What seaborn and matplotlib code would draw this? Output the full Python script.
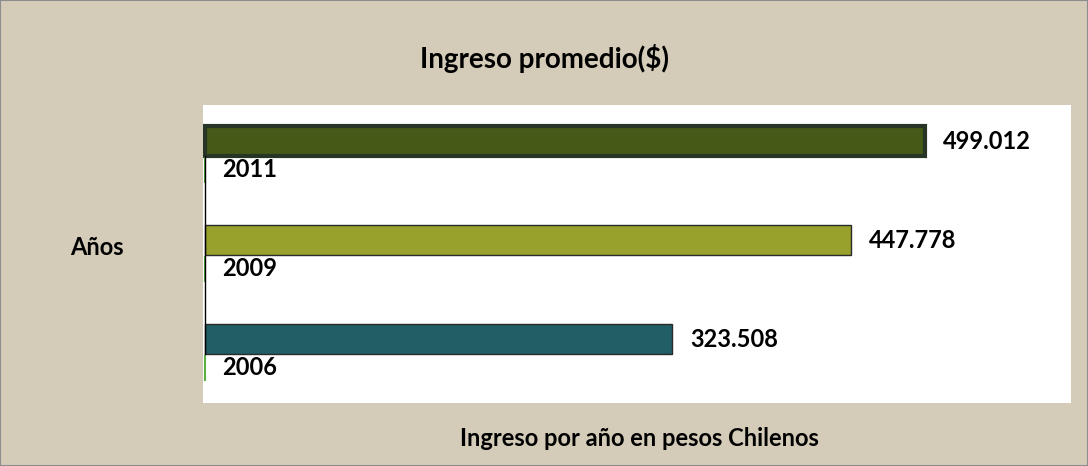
import matplotlib.pyplot as plt
import pandas as pd
import seaborn as sns
from matplotlib.patches import Rectangle

years = ["2011", "2009", "2006"]
incomes = [499012, 447778, 323508]
bar_colors = ["#465A18", "#98A12C", "#225E66"]
value_labels = ["499.012", "447.778", "323.508"]


def main():
    df = pd.DataFrame({"Año": years, "Ingreso": incomes})

    sns.set_theme(style="white")
    plt.rcParams["font.family"] = ["Lato", "DejaVu Sans"]

    fig = plt.figure(figsize=(10.88, 4.66), dpi=100, facecolor="#D4CCB8")
    fig.patches.append(
        Rectangle((0, 0), 1, 1, transform=fig.transFigure, fill=False,
                  edgecolor="#8C8C8C", linewidth=1.5)
    )
    ax = fig.add_axes([0.1866, 0.1352, 0.7978, 0.6395])
    ax.set_facecolor("white")

    sns.barplot(
        data=df, x="Ingreso", y="Año", hue="Año", palette=bar_colors,
        orient="h", width=0.3, saturation=1, legend=False, ax=ax,
    )

    for i, p in enumerate(ax.patches):
        if i == 0:
            p.set_edgecolor("#263526")
            p.set_linewidth(3)
        else:
            p.set_edgecolor("#2A2A2A")
            p.set_linewidth(1)

    for i, (v, lab) in enumerate(zip(incomes, value_labels)):
        ax.annotate(lab, xy=(v, i), xytext=(13, 0), textcoords="offset points",
                    ha="left", va="center", fontsize=17, fontweight="bold", color="black")
        ax.annotate(years[i], xy=(0, i + 0.29), xytext=(12, 0), textcoords="offset points",
                    ha="left", va="center", fontsize=17, fontweight="bold", color="black")

    # green marks under each bar, next to the axis line
    ax.vlines([0] * len(years), [i + 0.16 for i in range(len(years))],
              [i + 0.42 for i in range(len(years))], color="#5CB040", linewidth=1.5)

    ax.set_xlim(-1500, 600000)
    ax.set_ylim(2.646, -0.364)
    ax.set_xticks([])
    ax.set_yticks([])
    for side in ["top", "right", "bottom"]:
        ax.spines[side].set_visible(False)
    ax.spines["left"].set_color("black")
    ax.spines["left"].set_linewidth(1)
    ax.spines["left"].set_position(("data", 0))
    ax.spines["left"].set_bounds(0.15, 2.15)

    ax.set_ylabel("Años", rotation=0, fontsize=17, fontweight="bold", color="black",
                  ha="center", va="center")
    ax.yaxis.set_label_coords(-0.122, 0.522)
    ax.set_xlabel("Ingreso por año en pesos Chilenos", fontsize=17, fontweight="bold",
                  color="black")
    ax.xaxis.set_label_coords(0.503, -0.081)

    fig.text(0.5, 0.8755, "Ingreso promedio($)", ha="center", va="center",
             fontsize=20, fontweight="bold", color="black")

    fig.savefig("out.png", dpi=100, facecolor=fig.get_facecolor())


if __name__ == "__main__":
    main()
